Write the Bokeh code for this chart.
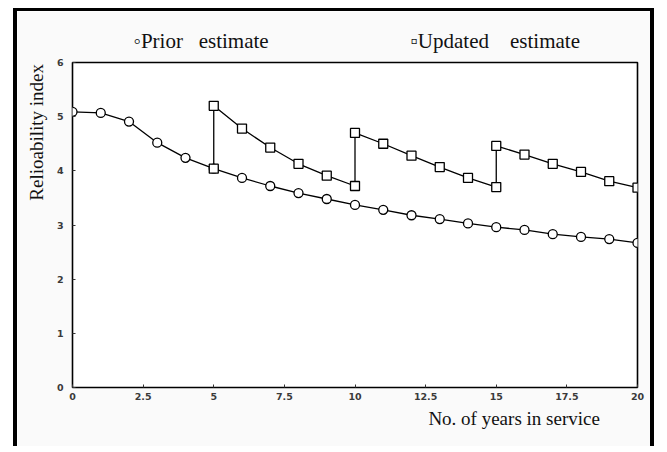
import numpy as np
from bokeh.plotting import figure
from bokeh.models import FixedTicker, Range1d
from bokeh.embed import file_html
from bokeh.resources import INLINE

# ---- data ----
years = [0, 1, 2, 3, 4, 5, 6, 7, 8, 9, 10, 11, 12, 13, 14, 15, 16, 17, 18, 19, 20]
prior = [5.09, 5.07, 4.91, 4.52, 4.24, 4.04, 3.87, 3.72, 3.59, 3.48, 3.37,
         3.28, 3.18, 3.11, 3.03, 2.96, 2.91, 2.83, 2.78, 2.74, 2.67]
upd_years = [5, 5, 6, 7, 8, 9, 10, 10, 11, 12, 13, 14, 15, 15, 16, 17, 18, 19, 20]
updated = [4.04, 5.20, 4.78, 4.43, 4.13, 3.91, 3.72, 4.70, 4.50, 4.28, 4.07,
           3.87, 3.70, 4.46, 4.30, 4.13, 3.98, 3.81, 3.69]
x_ticks = [0, 2.5, 5, 7.5, 10, 12.5, 15, 17.5, 20]
x_tick_labels = {0: "0", 2.5: "2.5", 5: "5", 7.5: "7.5", 10: "10", 12.5: "12.5",
                 15: "15", 17.5: "17.5", 20: "20"}
y_ticks = [0, 1, 2, 3, 4, 5, 6]

NB = "\u00a0"
EM = "\u2003"
legend_text = ("\u25e6Prior" + NB * 3 + "estimate" + NB * 27 +
               "\u25abUpdated" + NB * 4 + "estimate")

W, H = 641, 438
p = figure(width=W, height=H, output_backend="svg", toolbar_location=None,
           x_range=Range1d(0, 20), y_range=Range1d(0, 6),
           min_border_left=55, min_border_right=21, min_border_top=51,
           min_border_bottom=62)
p.styles = {"border-left": "4px solid black", "border-right": "4px solid black",
            "border-top": "3px solid black", "margin-left": "13px",
            "margin-top": "8px"}
p.background_fill_color = "white"
p.border_fill_color = "#fafafa"
p.outline_line_color = "black"
p.outline_line_width = 1.6
p.xgrid.visible = False
p.ygrid.visible = False

p.title.text = legend_text
p.title.text_font = "Liberation Serif"
p.title.text_font_size = "21px"
p.title.text_font_style = "normal"
p.title.text_color = "#111111"
p.title.align = "left"
p.title.offset = 61
p.title.standoff = 19

for ax in (p.xaxis[0], p.yaxis[0]):
    ax.axis_line_color = None
    ax.major_tick_in = 3
    ax.major_tick_out = 0
    ax.minor_tick_line_color = None
    ax.major_tick_line_color = "#333333"
    ax.major_label_text_font = "DejaVu Sans"
    ax.major_label_text_font_size = "9.5px"
    ax.major_label_text_font_style = "bold"
    ax.major_label_text_color = "#3a3a3a"
    ax.axis_label_text_font = "Liberation Serif"
    ax.axis_label_text_font_size = "19px"
    ax.axis_label_text_font_style = "normal"
    ax.axis_label_text_color = "#111111"

p.xaxis.ticker = FixedTicker(ticks=x_ticks)
p.xaxis.major_label_overrides = {k: v for k, v in x_tick_labels.items()}
p.xaxis.major_label_standoff = 5
p.xaxis.axis_label = EM * 16 + NB * 3 + "No. of years in service"
p.xaxis.axis_label_standoff = 5

p.yaxis.ticker = FixedTicker(ticks=y_ticks)
p.yaxis.major_label_standoff = 9
p.yaxis.axis_label = EM * 9 + NB * 3 + "Relioability index"
p.yaxis.axis_label_standoff = 7

p.line(years, prior, line_color="black", line_width=1.3)
p.scatter(years, prior, marker="circle", size=9, fill_color="white",
          line_color="black", line_width=1.3)
p.line(upd_years, updated, line_color="black", line_width=1.3)
p.scatter(upd_years, updated, marker="square", size=9, fill_color="white",
          line_color="black", line_width=1.3)

open("out.html", "w").write(file_html(p, INLINE))
